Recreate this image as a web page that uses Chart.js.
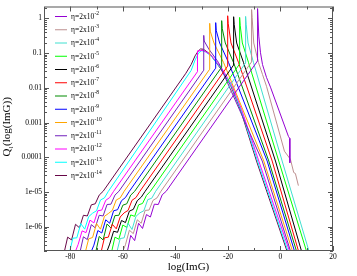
<!DOCTYPE html>
<html>
<head>
<meta charset="utf-8">
<script src="https://cdn.jsdelivr.net/npm/chart.js@4.4.0/dist/chart.umd.min.js"></script>
<style>
  html, body { margin: 0; padding: 0; background: #fff; }
  canvas { display: block; }
</style>
</head>
<body>
<canvas id="c" width="357" height="276"></canvas>
<script>
// x = log(ImG), q = log10 of Q_l, one pair per eta = 2x10^-k

const x2 = [-58.5, -57, -55.5, -54, -52.5, -51, -49.5, -48, -46.5, -45, -43.5, -8.73, -8.71, -8.24, -7.59, -6.83, -5.31, -3.80, 3.04, 3.53, 3.57];
const q2 = [-6.8, -6.25, -6.4, -5.9, -6.05, -5.65, -5.72, -5.35, -5.36, -5.08, -4.98, -1.225, 0.283, -0.51, -0.99, -1.33, -1.70, -1.98, -3.40, -3.456, -4.16];

const x3 = [-60.5, -59, -57.5, -56, -54.5, -53, -51.5, -50, -48.5, -47, -45.5, -11.01, -10.99, -10.78, -10.17, -8.35, -6.83, -5.31, 1.52, 3.80, 5.05, 5.69, 6.83];
const q3 = [-6.8, -6.52, -6.1, -6.2, -5.8, -5.9, -5.53, -5.52, -5.24, -5.17, -4.98, -1.255, 0.255, 0.028, -0.708, -1.275, -1.615, -1.955, -3.824, -4.06, -4.44, -4.467, -4.816];

const x4 = [-62.5, -61, -59.5, -58, -56.5, -55, -53.5, -52, -50.5, -49, -47.5, -13.28, -13.26, -13.05, -12.33, -10.25, 0.645, 11.0];
const q4 = [-6.8, -6.34, -6.32, -5.9, -6.08, -5.7, -5.6, -5.54, -5.22, -5.18, -4.98, -1.284, 0.057, -0.17, -0.708, -1.275, -4.108, -6.74];

const x5 = [-64.5, -63, -61.5, -60, -58.5, -57, -55.5, -54, -52.5, -51, -49.5, -15.56, -15.54, -15.33, -14.50, -12.14, -0.645, 10.06];
const q5 = [-6.8, -6.3, -6.36, -5.95, -6.02, -5.66, -5.7, -5.37, -5.33, -5.1, -4.98, -1.314, 0.028, -0.198, -0.708, -1.275, -4.108, -6.74];

const x6 = [-66.5, -65, -63.5, -62, -60.5, -59, -57.5, -56, -54.5, -53, -51.5, -17.84, -17.82, -17.61, -16.66, -14.04, -1.90, 8.16];
const q6 = [-6.8, -6.5, -6.13, -6.16, -5.82, -5.88, -5.55, -5.5, -5.25, -5.15, -4.98, -1.345, 0.048, -0.178, -0.708, -1.275, -4.108, -6.74];

const x7 = [-68.5, -67, -65.5, -64, -62.5, -61, -59.5, -58, -56.5, -55, -53.5, -20.11, -20.09, -19.89, -18.82, -15.94, -3.15, 7.02];
const q7 = [-6.8, -6.32, -6.3, -5.93, -6.06, -5.72, -5.6, -5.53, -5.24, -5.16, -4.98, -1.374, 0.076, -0.150, -0.708, -1.275, -4.108, -6.74];

const x8 = [-70.5, -69, -67.5, -66, -64.5, -63, -61.5, -60, -58.5, -57, -55.5, -22.39, -22.37, -22.16, -20.99, -17.84, -4.44, 6.26];
const q8 = [-6.8, -6.28, -6.38, -5.92, -6.04, -5.68, -5.67, -5.38, -5.34, -5.09, -4.98, -1.404, -0.065, -0.292, -0.708, -1.275, -4.108, -6.74];

const x9 = [-72.5, -71, -69.5, -68, -66.5, -65, -63.5, -62, -60.5, -59, -57.5, -24.67, -24.65, -24.44, -23.15, -19.73, -5.05, 5.5];
const q9 = [-6.8, -6.53, -6.11, -6.18, -5.8, -5.9, -5.54, -5.51, -5.25, -5.16, -4.98, -1.434, -0.122, -0.348, -0.708, -1.275, -4.108, -6.74];

const x10 = [-74.5, -73, -71.5, -70, -68.5, -67, -65.5, -64, -62.5, -61, -59.5, -26.95, -26.93, -26.72, -25.31, -21.63, -6.34, 4.74];
const q10 = [-6.8, -6.35, -6.31, -5.91, -6.07, -5.7, -5.62, -5.53, -5.23, -5.17, -4.98, -1.465, -0.142, -0.368, -0.708, -1.275, -4.108, -6.74];

const x11 = [-76.5, -75, -73.5, -72, -70.5, -69, -67.5, -66, -64.5, -63, -61.5, -29.22, -29.20, -29.03, -27.32, -23.53, -6.94, 3.99];
const q11 = [-6.8, -6.29, -6.37, -5.94, -6.03, -5.67, -5.69, -5.36, -5.35, -5.09, -4.98, -1.494, -0.49, -0.652, -0.878, -1.275, -4.108, -6.74];

const x12 = [-78.5, -77, -75.5, -74, -72.5, -71, -69.5, -68, -66.5, -65, -63.5, -31.6, -31.58, -29.3, -28.0, -26.3, -22.4, -18.6, -14.8, -8.24, 3.61];
const q12 = [-6.8, -6.51, -6.12, -6.17, -5.81, -5.89, -5.54, -5.52, -5.24, -5.16, -4.98, -1.535, -0.935, -0.925, -0.98, -1.07, -1.43, -1.91, -2.62, -4.108, -6.74];

const x13 = [-80.5, -79, -77.5, -76, -74.5, -73, -71.5, -70, -68.5, -67, -65.5, -34, -32.5, -31.2, -30.0, -28.8, -27.5, -26.2, -22.4, -18.7, -15.0, -8.73, 3.04];
const q13 = [-6.8, -6.33, -6.32, -5.91, -6.07, -5.71, -5.61, -5.54, -5.23, -5.17, -4.98, -1.5, -1.2, -1.0, -0.93, -0.95, -1.02, -1.1, -1.46, -1.94, -2.64, -4.108, -6.74];

const x14 = [-82.5, -81, -79.5, -78, -76.5, -75, -73.5, -72, -70.5, -69, -67.5, -36, -34, -32.5, -31.3, -30.4, -29.3, -28, -26.6, -22.8, -19.0, -15.2, -9.11, 2.66];
const q14 = [-6.8, -6.3, -6.38, -5.93, -6.03, -5.67, -5.69, -5.37, -5.34, -5.09, -4.98, -1.58, -1.33, -1.08, -0.94, -0.88, -0.89, -0.96, -1.048, -1.445, -1.926, -2.635, -4.108, -6.74];

const etaExp = ['-2', '-3', '-4', '-5', '-6', '-7', '-8', '-9', '-10', '-11', '-12', '-13', '-14'];
const xTicks = [-80, -60, -40, -20, 0, 20];
const yTicks = [1e-6, 1e-5, 1e-4, 1e-3, 1e-2, 1e-1, 1];
const yTickLabels = ['1e-06', '1e-05', '0.0001', '0.001', '0.01', '0.1', '1'];

// grace default palette, in legend order
const colors = [
  'rgb(148,0,211)', 'rgb(188,143,143)', 'rgb(64,224,208)', 'rgb(0,255,0)',
  'rgb(0,0,0)', 'rgb(255,0,0)', 'rgb(0,139,0)', 'rgb(0,0,255)',
  'rgb(255,165,0)', 'rgb(114,33,188)', 'rgb(255,0,255)', 'rgb(0,255,255)',
  'rgb(103,7,72)'
];

const xs = [x2, x3, x4, x5, x6, x7, x8, x9, x10, x11, x12, x13, x14];
const qs = [q2, q3, q4, q5, q6, q7, q8, q9, q10, q11, q12, q13, q14];

const datasets = xs.map((xv, i) => ({
  label: 'η=2x10' + etaExp[i],
  data: xv.map((x, j) => ({ x: x, y: Math.pow(10, qs[i][j]) })),
  borderColor: colors[i],
  borderWidth: 1,
  pointRadius: 0,
  tension: 0,
  fill: false
}));

const SERIF = '"Liberation Serif", "DejaVu Serif", serif';

// frame + inward ticks on all four sides, grace style
const framePlugin = {
  id: 'frame',
  afterDraw(chart) {
    const { ctx, chartArea: a, scales } = chart;
    const x = scales.x, y = scales.y;
    ctx.save();
    ctx.strokeStyle = '#555';
    ctx.lineWidth = 1;
    ctx.strokeRect(a.left + 0.5, a.top + 0.5, a.right - a.left - 1, a.bottom - a.top - 1);
    ctx.beginPath();
    for (let v = -80; v <= 20; v += 10) {
      const px = Math.round(x.getPixelForValue(v)) + 0.5;
      const len = v % 20 === 0 ? 5 : 3;
      ctx.moveTo(px, a.bottom); ctx.lineTo(px, a.bottom - len);
      ctx.moveTo(px, a.top); ctx.lineTo(px, a.top + len);
    }
    for (let e = -7; e <= 0; e++) {
      for (let m = 1; m <= 9; m++) {
        const v = m * Math.pow(10, e);
        if (v < y.min || v > y.max) continue;
        const py = Math.round(y.getPixelForValue(v)) + 0.5;
        const len = m === 1 ? 5 : 3;
        ctx.moveTo(a.left, py); ctx.lineTo(a.left + len, py);
        ctx.moveTo(a.right, py); ctx.lineTo(a.right - len, py);
      }
    }
    ctx.stroke();

    // legend
    ctx.textBaseline = 'middle';
    ctx.fillStyle = '#000';
    chart.data.datasets.forEach((ds, i) => {
      const ly = 16 + i * 13.25;
      ctx.strokeStyle = ds.borderColor;
      ctx.beginPath();
      ctx.moveTo(55, ly + 0.5); ctx.lineTo(67, ly + 0.5);
      ctx.stroke();
      ctx.font = '7.5px ' + SERIF;
      ctx.fillText('η=2x10', 71, ly + 1);
      const w = ctx.measureText('η=2x10').width;
      ctx.font = '5.5px ' + SERIF;
      ctx.fillText(etaExp[i], 71 + w + 0.3, ly - 2.5);
    });

    // axis titles
    ctx.font = '11px ' + SERIF;
    ctx.textAlign = 'center';
    ctx.textBaseline = 'alphabetic';
    ctx.fillText('log(ImG)', (a.left + a.right) / 2, 270);

    ctx.translate(10, 127);
    ctx.rotate(-Math.PI / 2);
    ctx.textAlign = 'left';
    ctx.font = '11px ' + SERIF;
    const wQ = ctx.measureText('Q').width;
    const wR = ctx.measureText('(log(ImG))').width;
    ctx.font = '7px ' + SERIF;
    const wl = ctx.measureText('l').width;
    const start = -(wQ + wl + wR) / 2;
    ctx.font = '11px ' + SERIF;
    ctx.fillText('Q', start, 0);
    ctx.font = '7px ' + SERIF;
    ctx.fillText('l', start + wQ, 2.5);
    ctx.font = '11px ' + SERIF;
    ctx.fillText('(log(ImG))', start + wQ + wl + 0.5, 0);
    ctx.restore();
  }
};

new Chart(document.getElementById('c'), {
  type: 'line',
  data: { datasets: datasets },
  options: {
    responsive: false,
    animation: false,
    parsing: false,
    layout: { padding: { top: 3, right: 24, left: 0, bottom: 0 } },
    plugins: { legend: { display: false }, tooltip: { enabled: false } },
    scales: {
      x: {
        type: 'linear',
        min: -90,
        max: 20,
        afterBuildTicks: s => { s.ticks = xTicks.map(v => ({ value: v })); },
        afterFit: s => { s.height = 25; },
        grid: { display: false, drawTicks: false },
        border: { display: false },
        ticks: { padding: 2, color: '#000', font: { family: SERIF, size: 7.5 }, maxRotation: 0 }
      },
      y: {
        type: 'logarithmic',
        min: 2e-7,
        max: 2.2,
        afterBuildTicks: s => { s.ticks = yTicks.map(v => ({ value: v })); },
        afterFit: s => { s.width = 44; },
        grid: { display: false, drawTicks: false },
        border: { display: false },
        ticks: {
          padding: 2,
          color: '#000',
          font: { family: SERIF, size: 7.5 },
          callback: (v, idx) => yTickLabels[idx]
        }
      }
    }
  },
  plugins: [framePlugin]
});
</script>
</body>
</html>
